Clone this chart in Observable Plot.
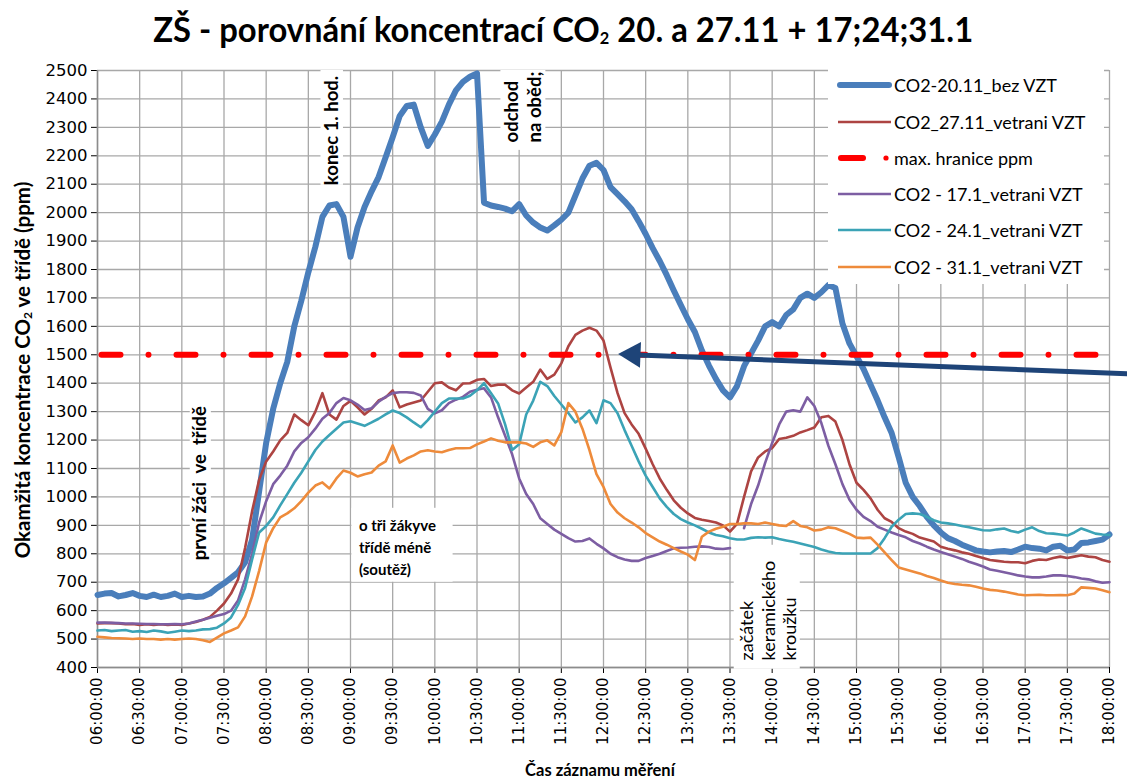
<!DOCTYPE html>
<html><head><meta charset="utf-8">
<script src="https://cdn.jsdelivr.net/npm/d3@7"></script>
<script src="https://cdn.jsdelivr.net/npm/@observablehq/plot@0.6"></script>
<style>
body{margin:0;background:#fff;}
#wrap{position:relative;width:1127px;height:782px;overflow:hidden;font-family:Lato,"Open Sans",sans-serif;background:#fff;}
#title{position:absolute;left:0;top:9px;width:1127px;text-align:center;font-weight:bold;font-size:34px;line-height:40px;white-space:nowrap;color:#000;}
#title span{display:inline-block;transform-origin:center;}
#title sub{font-size:17px;vertical-align:baseline;position:relative;top:2px;}
#chart{position:absolute;left:0;top:60px;}
#chart [aria-label^="y-axis"]{font-size:16.5px;}
#ylabel{position:absolute;left:22px;top:370px;transform:translate(-50%,-50%) rotate(-90deg);font-weight:bold;font-size:20.5px;white-space:nowrap;color:#000;}
#ylabel sub{font-size:12px;vertical-align:baseline;position:relative;top:2px;}
#xlabel{position:absolute;left:600px;top:770px;transform:translate(-50%,-50%);font-weight:bold;font-size:16.5px;white-space:nowrap;color:#000;}
#legend{position:absolute;left:828px;top:66px;width:276px;height:218px;background:#fff;}
.lg{position:absolute;left:8px;height:24px;display:flex;align-items:center;font-size:18px;color:#000;white-space:nowrap;}
.lg svg{margin-right:2px;}
</style></head>
<body><div id="wrap">
<div id="title"><span>ZŠ - porovnání koncentrací CO<sub>2</sub> 20. a 27.11 + 17;24;31.1</span></div>
<div id="chart"></div>
<div id="ylabel">Okamžitá koncentrace CO<sub>2</sub> ve třídě (ppm)</div>
<div id="xlabel">Čas záznamu měření</div>
<div id="legend"></div>
</div>
<script>
// ---------- data ----------
const timeTickLabels = ["06:00:00","06:30:00","07:00:00","07:30:00","08:00:00","08:30:00","09:00:00","09:30:00","10:00:00","10:30:00","11:00:00","11:30:00","12:00:00","12:30:00","13:00:00","13:30:00","14:00:00","14:30:00","15:00:00","15:30:00","16:00:00","16:30:00","17:00:00","17:30:00","18:00:00"];
const yTicks = [400,500,600,700,800,900,1000,1100,1200,1300,1400,1500,1600,1700,1800,1900,2000,2100,2200,2300,2400,2500];

// samples every 5 minutes, 06:00 .. 18:00 (one row per hour)
const co2_20_11 = [
 655,660,662,650,655,662,652,648,656,648,652,660,
 648,652,648,650,660,680,696,715,735,770,850,1020,
 1190,1310,1400,1475,1600,1690,1790,1880,1985,2025,2030,1985,
 1845,1948,2020,2075,2125,2195,2265,2340,2375,2380,2300,2235,
 2275,2320,2380,2430,2460,2478,2490,2035,2025,2020,2014,2005,
 2030,1990,1965,1948,1937,1955,1975,2000,2060,2120,2165,2175,
 2150,2090,2065,2040,2012,1970,1925,1875,1830,1780,1726,1675,
 1625,1580,1515,1462,1415,1375,1350,1390,1460,1505,1550,1600,
 1615,1600,1640,1660,1700,1715,1700,1720,1745,1735,1610,1540,
 1495,1450,1395,1340,1280,1225,1140,1050,1000,968,930,900,
 875,855,845,832,822,812,808,805,808,810,806,815,
 825,820,818,812,825,828,812,815,838,840,845,850,
 868];
const co2_27_11 = [
 555,556,556,555,552,553,550,552,550,552,550,551,
 550,555,560,568,578,600,625,660,710,820,950,1060,
 1125,1160,1199,1225,1290,1270,1252,1300,1365,1290,1272,1320,
 1338,1315,1290,1310,1339,1350,1375,1315,1325,1332,1339,1370,
 1400,1403,1385,1375,1399,1400,1412,1415,1390,1395,1395,1375,
 1364,1385,1405,1448,1415,1430,1470,1530,1570,1585,1595,1585,
 1550,1455,1365,1295,1255,1222,1170,1115,1065,1025,988,962,
 942,926,920,915,910,900,878,905,1000,1090,1139,1160,
 1172,1204,1208,1215,1227,1235,1244,1280,1285,1265,1200,1115,
 1050,1025,995,955,925,912,890,878,870,857,850,843,
 825,818,812,805,800,792,785,778,775,772,770,770,
 767,775,780,778,785,790,785,790,795,790,788,778,
 772];
const co2_17_1 = [
 558,558,557,556,555,555,554,553,553,552,552,553,
 552,555,562,568,575,582,588,600,636,710,800,910,
 985,1045,1075,1110,1160,1190,1210,1240,1275,1295,1330,1348,
 1340,1325,1306,1312,1335,1352,1365,1368,1368,1366,1357,1310,
 1294,1305,1330,1342,1352,1370,1377,1382,1350,1280,1215,1150,
 1065,1010,975,925,905,885,870,855,843,845,854,835,
 819,800,788,780,775,775,785,792,800,810,819,821,
 822,825,826,824,818,817,820,null,890,975,1040,1120,
 1190,1255,1300,1305,1300,1350,1320,1260,1180,1115,1045,990,
 955,930,915,895,885,875,866,858,845,836,825,815,
 806,798,790,782,772,764,755,745,740,735,730,724,
 720,717,717,720,724,724,722,718,713,710,703,698,
 700];
const co2_24_1 = [
 530,532,528,530,532,526,528,525,530,527,522,526,
 530,528,530,534,535,540,555,576,620,680,780,875,
 898,928,970,1010,1050,1085,1125,1165,1195,1218,1240,1262,
 1266,1258,1250,1262,1275,1290,1304,1295,1280,1262,1245,1270,
 1300,1330,1346,1346,1346,1356,1375,1400,1365,1329,1255,1165,
 1185,1290,1339,1405,1390,1355,1325,1295,1262,1280,1304,1260,
 1340,1330,1294,1235,1180,1125,1075,1035,995,965,940,922,
 910,900,888,875,866,862,855,850,850,856,858,857,
 858,852,847,842,836,830,824,815,808,803,801,801,
 801,801,801,820,855,895,920,940,942,940,930,918,
 910,907,903,898,893,888,883,882,886,889,880,875,
 885,893,880,872,871,868,864,875,889,880,871,868,
 866];
const co2_31_1 = [
 508,506,504,503,502,500,502,500,500,498,500,498,
 500,502,500,496,490,505,520,530,541,580,650,740,
 840,890,928,942,960,985,1015,1040,1051,1030,1065,1093,
 1085,1072,1080,1086,1110,1125,1181,1121,1135,1146,1160,1164,
 1160,1157,1165,1171,1171,1172,1185,1195,1206,1198,1192,1192,
 1192,1188,1176,1192,1199,1181,1228,1330,1300,1240,1165,1080,
 1035,975,945,925,910,893,873,858,843,832,820,808,
 797,778,860,878,888,895,905,905,907,907,905,910,
 905,900,898,915,898,893,882,885,893,890,880,870,
 857,855,857,832,805,778,752,745,738,731,722,715,
 706,698,694,691,689,684,678,673,671,667,662,657,
 654,655,656,654,654,655,654,660,682,680,678,672,
 665];
const maxLimit = 1500;

const seriesNames = ["CO2-20.11_bez VZT","CO2_27.11_vetrani VZT","max. hranice ppm","CO2 - 17.1_vetrani VZT","CO2 - 24.1_vetrani VZT","CO2 - 31.1_vetrani VZT"];
const seriesColors = ["#4a7ebb","#ad4442","#ff0000","#7d5ea3","#3ba3b6","#ee8b3b"];

// annotations (time, ppm)
const notesMiddle = [
  {t:"08:47", v:2289, text:"konec 1. hod."},
  {t:"07:13", v:1048, text:"první žáci \u00a0ve \u00a0třídě"}
];
const notesStart = [
  {t:"10:55", v:2247, text:"odchod"},
  {t:"11:11", v:2247, text:"na oběd;"}
];
const notesClub = [{t:"13:57", v:425, text:"začátek\nkeramického\nkroužku"}];
const notesFlat = [{t:"09:06", v:829, text:"o tři žákyve\ntřídě méně\n(soutěž)"}];
const noteBoxes = [
  {t1:"08:39", t2:"08:55", v1:2096, v2:2500},
  {t1:"10:47", t2:"11:19", v1:2219, v2:2500},
  {t1:"07:06", t2:"07:21", v1:759, v2:1339},
  {t1:"09:01", t2:"10:13", v1:700, v2:960},
  {t1:"13:33", t2:"14:20", v1:394, v2:830}
];
const arrowLine = [{t:"12:20", v:1500}, {t:"18:13", v:1433}];
const arrowHead = [{t:"12:21", v:1501}];

// ---------- build ----------
const T = s => { const [h,m] = s.split(":").map(Number); return new Date(Date.UTC(2000,0,1,h,m)); };
const tickDates = timeTickLabels.map(T);
const t0 = tickDates[0], t1 = tickDates[tickDates.length-1];
const sampleTimes = co2_20_11.map((_, i) => new Date(Date.UTC(2000,0,1,6,5*i)));
const rows = arr => arr.map((v,i) => ({t: sampleTimes[i], v}));

const lineOpts = (c, w) => ({x:"t", y:"v", stroke:c, strokeWidth:w, strokeLinejoin:"round", strokeLinecap:"round"});
const xT = d => T(d.t);

const plot = Plot.plot({
  width: 1127, height: 722,
  marginTop: 10, marginBottom: 115, marginLeft: 97, marginRight: 18,
  style: {fontFamily: "'DejaVu Sans', Verdana, sans-serif", fontSize: "15px", color: "#000", background: "transparent", overflow: "visible"},
  x: {type: "utc", domain: [t0, t1], ticks: tickDates, tickFormat: (d) => timeTickLabels[tickDates.findIndex(e => +e === +d)], tickRotate: -90, tickSize: 6, tickPadding: 4, label: null},
  y: {domain: [400, 2500], ticks: yTicks, tickFormat: d => String(d), tickSize: 6, tickPadding: 4, label: null},
  marks: [
    Plot.ruleX(tickDates, {stroke: "#a8a8a8", strokeWidth: 1.3}),
    Plot.ruleY(yTicks, {stroke: "#a8a8a8", strokeWidth: 1.3}),
    Plot.ruleX([t0], {stroke: "#8c8c8c", strokeWidth: 1.5}),
    Plot.ruleY([400], {stroke: "#8c8c8c", strokeWidth: 1.5}),
    Plot.rect(noteBoxes, {x1: d => T(d.t1), x2: d => T(d.t2), y1: "v1", y2: "v2", fill: "white"}),
    Plot.line(rows(co2_20_11), lineOpts(seriesColors[0], 6)),
    Plot.line(rows(co2_27_11), lineOpts(seriesColors[1], 2.6)),
    Plot.line([{t: t0, v: maxLimit}, {t: t1, v: maxLimit}], {x:"t", y:"v", stroke: seriesColors[2], strokeWidth: 6, strokeLinecap: "round", strokeDasharray: "19,28,0,28", strokeDashoffset: -4}),
    Plot.line(rows(co2_17_1), lineOpts(seriesColors[3], 2.6)),
    Plot.line(rows(co2_24_1), lineOpts(seriesColors[4], 2.6)),
    Plot.line(rows(co2_31_1), lineOpts(seriesColors[5], 2.6)),
    Plot.line(arrowLine, {x: xT, y: "v", stroke: "#1e4478", strokeWidth: 5}),
    Plot.dot(arrowHead, {x: xT, y: "v", symbol: "triangle", r: 9.6, fill: "#1e4478", rotate: -87.7}),
    Plot.text(notesMiddle, {x: xT, y: "v", text: "text", rotate: -90, textAnchor: "middle", fontFamily: "Lato", fontWeight: "bold", fontSize: 18.5, fill: "#000"}),
    Plot.text(notesStart, {x: xT, y: "v", text: "text", rotate: -90, textAnchor: "start", fontFamily: "Lato", fontWeight: "bold", fontSize: 18.5, fill: "#000"}),
    Plot.text(notesClub, {x: xT, y: "v", text: "text", rotate: -90, textAnchor: "start", lineHeight: 1.2, fontFamily: "Lato", fontSize: 18, fill: "#000"}),
    Plot.text(notesFlat, {x: xT, y: "v", text: "text", textAnchor: "start", lineHeight: 1.47, fontFamily: "Lato", fontWeight: "bold", fontSize: 15, fill: "#000"})
  ]
});
document.getElementById("chart").appendChild(plot);

// legend
const lg = document.getElementById("legend");
const rowY = [19, 56, 92, 128, 164, 201];
seriesNames.forEach((name, i) => {
  const div = document.createElement("div");
  div.className = "lg";
  div.style.top = (rowY[i] - 12) + "px";
  let sw;
  if (i === 0) sw = `<line x1="4" y1="6" x2="53" y2="6" stroke="${seriesColors[0]}" stroke-width="6" stroke-linecap="round"/>`;
  else if (i === 2) sw = `<line x1="5" y1="6" x2="27" y2="6" stroke="${seriesColors[2]}" stroke-width="6" stroke-linecap="round"/><circle cx="50" cy="6" r="2.6" fill="${seriesColors[2]}"/>`;
  else sw = `<line x1="2" y1="6" x2="55" y2="6" stroke="${seriesColors[i]}" stroke-width="2.6"/>`;
  div.innerHTML = `<svg width="56" height="12">${sw}</svg><span>${name}</span>`;
  lg.appendChild(div);
});

// fit title width to reference (~820px)
const ts = document.querySelector("#title span");
const w = ts.getBoundingClientRect().width;
ts.style.transform = `scaleX(${820 / w})`;
</script>
</body></html>
